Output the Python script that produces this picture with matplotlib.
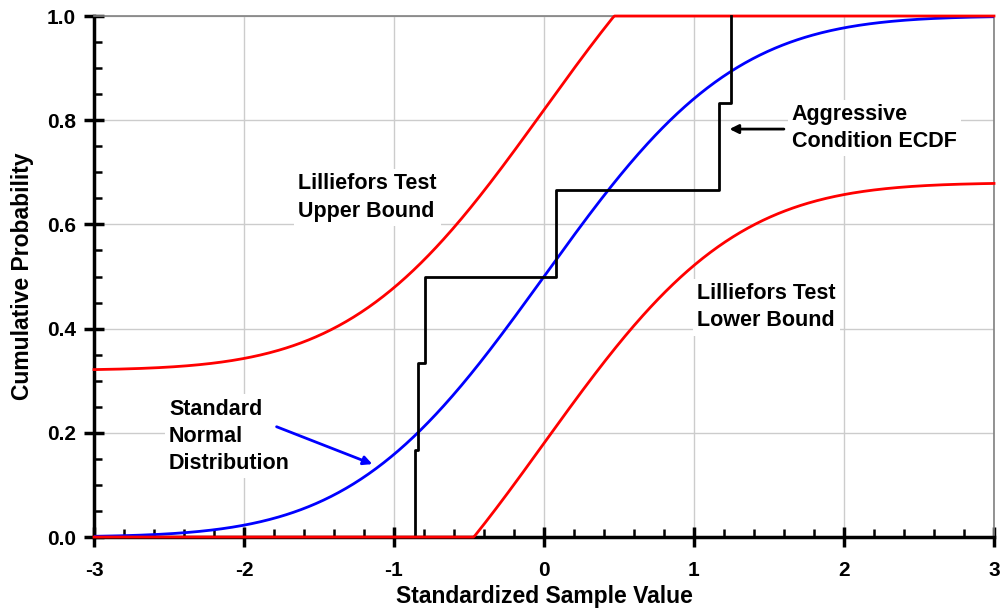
import math
import numpy as np
import matplotlib
matplotlib.use("Agg")
import matplotlib.pyplot as plt
from matplotlib.ticker import MultipleLocator

plt.rcParams['font.family'] = ['Liberation Sans', 'DejaVu Sans']
plt.rcParams['font.weight'] = 'bold'

# ECDF of the aggressive condition sample (standardized)
ecdf_x = [-0.86, -0.84, -0.79, 0.08, 1.17, 1.25]
ecdf_y = [1/6, 2/6, 3/6, 4/6, 5/6, 1.0]

# Lilliefors critical distance
d_crit = 0.32

x_range = (-3, 3)
xticks = [-3, -2, -1, 0, 1, 2, 3]
yticks = [0.0, 0.2, 0.4, 0.6, 0.8, 1.0]

# standard normal cdf and bounds
xs = np.linspace(x_range[0], x_range[1], 601)
phi = np.array([0.5 * (1 + math.erf(v / math.sqrt(2))) for v in xs])
upper = np.minimum(phi + d_crit, 1.0)
lower = np.maximum(phi - d_crit, 0.0)

fig = plt.figure(figsize=(10.01, 6.09), dpi=100)
ax = fig.add_axes([0.0939, 0.1182, 0.8991, 0.8555])

ax.plot(xs, phi, color='#0000ff', lw=2, zorder=3)
ax.plot(xs, upper, color='#ff0000', lw=2, zorder=3, clip_on=False)
ax.plot(xs, lower, color='#ff0000', lw=2, zorder=5, clip_on=False)

# step ECDF, starting from zero
sx = [ecdf_x[0]]
sy = [0.0]
prev = 0.0
for xv, yv in zip(ecdf_x, ecdf_y):
    sx += [xv, xv]
    sy += [prev, yv]
    prev = yv
ax.plot(sx[1:], sy[1:], color='black', lw=2, zorder=4, clip_on=False)

ax.set_xlim(*x_range)
ax.set_ylim(0, 1)
ax.set_xticks(xticks)
ax.set_yticks(yticks)
ax.set_xticklabels([str(t) for t in xticks])
ax.set_yticklabels([f"{t:.1f}" for t in yticks])
ax.xaxis.set_minor_locator(MultipleLocator(0.2))
ax.yaxis.set_minor_locator(MultipleLocator(0.05))
ax.tick_params(which='major', direction='inout', length=14, width=2.5, labelsize=15)
ax.tick_params(axis='y', which='major', pad=6)
ax.tick_params(axis='x', which='major', pad=10)
ax.tick_params(which='minor', direction='in', length=6, width=1.8)
ax.grid(True, which='major', color='#cccccc', lw=1)
ax.set_axisbelow(True)

for s in ['left', 'bottom']:
    ax.spines[s].set_linewidth(2.5)
    ax.spines[s].set_color('black')
for s in ['top', 'right']:
    ax.spines[s].set_linewidth(1.2)
    ax.spines[s].set_color('#808080')

ax.set_xlabel('Standardized Sample Value', fontsize=16.5, fontweight='bold', labelpad=4)
ax.set_ylabel('Cumulative Probability', fontsize=16.5, fontweight='bold', labelpad=9)

box = dict(facecolor='white', edgecolor='none', pad=3)
txt = dict(fontsize=15.5, fontweight='bold', va='center', ha='left',
           bbox=box, zorder=2, linespacing=1.4)
ax.text(-1.64, 0.652, 'Lilliefors Test\nUpper Bound', **txt)
ax.text(1.02, 0.441, 'Lilliefors Test\nLower Bound', **txt)
ax.text(-2.5, 0.193, 'Standard\nNormal\nDistribution', **txt)
ax.text(1.653, 0.785, 'Aggressive\nCondition ECDF', **txt)

ax.annotate('', xy=(-1.127, 0.138), xytext=(-1.8, 0.2136),
            arrowprops=dict(arrowstyle='-|>', color='#0000ff', lw=2, mutation_scale=13))
ax.annotate('', xy=(1.218, 0.783), xytext=(1.618, 0.783),
            arrowprops=dict(arrowstyle='-|>', color='black', lw=2, mutation_scale=13))

fig.savefig('out.png', dpi=100)
